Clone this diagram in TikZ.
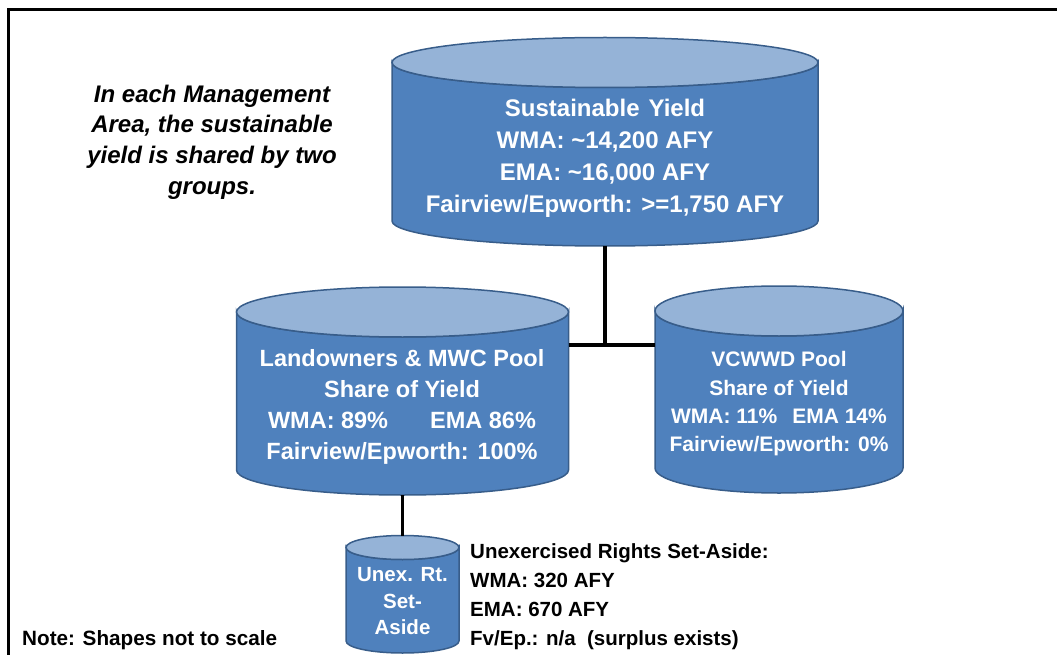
\documentclass[tikz,border=0pt]{standalone}
\usepackage{fontspec}
\setmainfont{Liberation Sans}
\definecolor{cylbodyc}{HTML}{4F81BD}
\definecolor{cyltopc}{HTML}{95B3D7}
\definecolor{cyledgec}{HTML}{385D8A}
% name, cx, y of top ellipse centre, y of bottom ellipse centre, rx, ry
\newcommand\mycyl[6]{%
  \filldraw[cylbodyline] ({#2-#5},#3) -- ({#2-#5},#4)
    arc[start angle=180, end angle=0, x radius=#5, y radius=#6]
    -- ({#2+#5},#3)
    arc[start angle=0, end angle=180, x radius=#5, y radius=#6] -- cycle;
  \filldraw[cyltopline] (#2,#3) ellipse[x radius=#5, y radius=#6];
  \node[cylarea, minimum width={2*#5pt}, minimum height={(#4-#3+2*#6)*1pt}]
    (#1) at (#2,{(#3+#4)/2}) {};
}
\begin{document}
\begin{tikzpicture}[x=1pt,y=-1pt,
  cylbodyline/.style={fill=cylbodyc, draw=cyledgec, line width=1.5pt},
  cyltopline/.style={fill=cyltopc, draw=cyledgec, line width=1.5pt},
  cylarea/.style={inner sep=0pt, outer sep=0pt, draw=none, rectangle},
  intxt/.style={text=white, align=center, inner sep=0pt},
  blacktxt/.style={text=black, inner sep=0pt},
  conn/.style={draw=black, line width=3.5pt},
  frameline/.style={draw=black, line width=2.5pt}]
\useasboundingbox (0,0) rectangle (1057,655);
% frame
\draw[frameline] (1070,9.5) -- (8.7,9.5) -- (8.7,670);
% cylinders
\mycyl{sy}{605}{62.5}{221}{213}{25}
\mycyl{lo}{402.5}{312}{470}{166}{25}
\mycyl{vc}{779}{311}{468}{124}{25}
\mycyl{ux}{402.5}{547.5}{641}{56.5}{12}
% connectors
\coordinate (j) at (605,345);
\draw[conn] (sy.south) -- (j);
\draw[conn] (lo.east |- j) -- (vc.west |- j);
\draw[conn] (lo.south) -- (ux.north);
% texts
\node[intxt, font=\bfseries\fontsize{24}{32}\selectfont] (sytxt) at (605,158.75)
  {Sustainable\hspace{9pt}Yield\\WMA: \textasciitilde14,200 AFY\\EMA: \textasciitilde16,000 AFY\\Fairview/Epworth: >=1,750 AFY};
\node[intxt, font=\bfseries\fontsize{23.5}{31.3}\selectfont] (lotxt) at (402,406.9)
  {Landowners \& MWC Pool\\Share of Yield\\WMA: 89\%\hspace*{42pt}EMA 86\%\\Fairview/Epworth: 100\%};
\node[intxt, font=\bfseries\fontsize{21}{28.3}\selectfont] (vctxt) at (779,404)
  {VCWWD Pool\\Share of Yield\\WMA: 11\%\hspace*{15pt}EMA 14\%\\Fairview/Epworth: 0\%};
\node[intxt, font=\bfseries\fontsize{20.5}{26.5}\selectfont] (uxtxt) at (402.5,601.1)
  {Unex. Rt.\\Set-\\Aside};
\node[blacktxt, align=left, anchor=west, font=\bfseries\fontsize{20.5}{29}\selectfont] (urtxt) at (470,596.3)
  {Unexercised Rights Set-Aside:\\WMA: 320 AFY\\EMA: 670 AFY\\Fv/Ep.: n/a\ \ (surplus exists)};
\node[blacktxt, align=center, font=\bfseries\itshape\fontsize{24}{30.7}\selectfont] (intro) at (212,141.9)
  {In each Management\\Area, the sustainable\\yield is shared by two\\groups.};
\node[blacktxt, anchor=base west, font=\bfseries\fontsize{20.7}{25}\selectfont] (note) at (22,645)
  {Note: Shapes not to scale};
\end{tikzpicture}
\end{document}
